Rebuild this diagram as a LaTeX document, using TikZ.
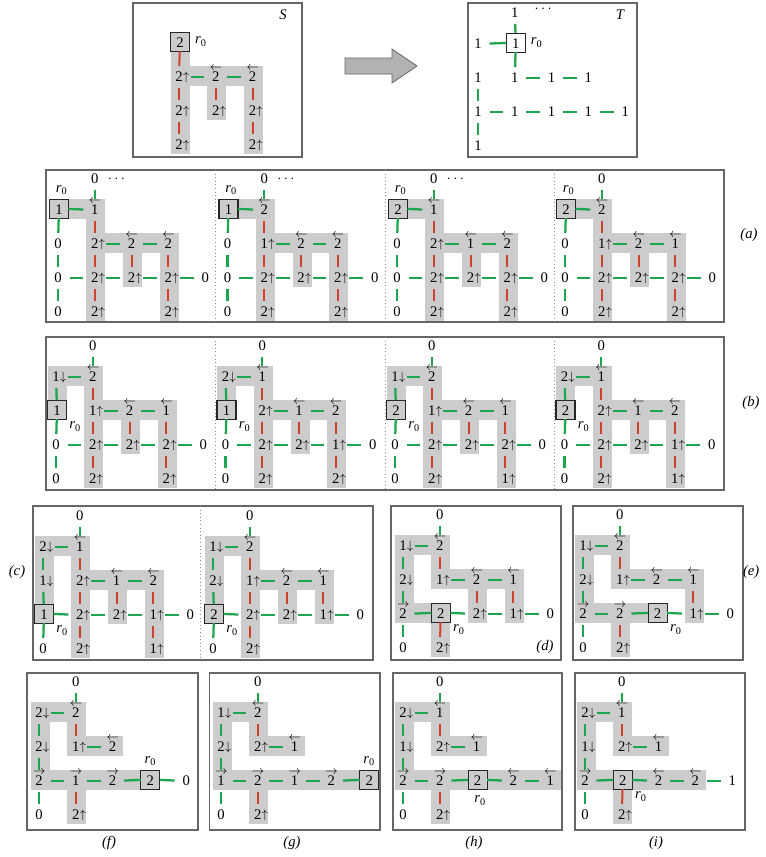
\documentclass[tikz,border=0pt]{standalone}
\usepackage{fontspec}
\setmainfont{Liberation Serif}
\usetikzlibrary{arrows.meta,positioning}

\definecolor{tgreen}{RGB}{30,165,80}
\definecolor{sred}{RGB}{205,65,45}
\definecolor{hl}{RGB}{204,204,204}

% marks beside / over a digit
\newcommand\up[1]{#1\rlap{\kern0.3pt\raisebox{1pt}[0pt][0pt]{\fontsize{9}{9}\selectfont$\uparrow$}}}
\newcommand\dn[1]{#1\rlap{\kern0.3pt\raisebox{1pt}[0pt][0pt]{\fontsize{9}{9}\selectfont$\downarrow$}}}
\newcommand\lt[1]{\rlap{\kern-1.75pt\raisebox{8.7pt}[0pt][0pt]{\fontsize{9}{9}\selectfont$\leftarrow$}}#1}
\newcommand\rt[1]{\rlap{\kern-1.75pt\raisebox{8.7pt}[0pt][0pt]{\fontsize{9}{9}\selectfont$\rightarrow$}}#1}
\newcommand\rzero{\textit{r}\textsubscript{0}}

% grid of one panel (px)
\newcommand\colstep{36.8}
\newcommand\rowstep{34}
\newcommand\hlcells[1]{%
  \foreach \ca/\ra/\cb/\rb in {#1}
    \fill[hl] ({\ca*\colstep-8.5},{(\ra-1)*\rowstep-11.5})
      rectangle ({\cb*\colstep+10.5},{(\rb-1)*\rowstep+8.5});}
\newcommand\verts[1]{%
  \foreach \vc/\vr/\vt in {#1}
    \node[v] (\vc\vr) at ({\vc*\colstep},{(\vr-1)*\rowstep+3*(\vr==0)}) {\vt};}
\newcommand\rootcell[3]{\node[rbox] (#1#2) at ({#1*\colstep},{(#2-1)*\rowstep}) {#3};}
\newcommand\tedges[1]{\foreach \p/\q in {#1} \draw[tedge] (\p) -- (\q);}
\newcommand\sedges[1]{\foreach \p/\q in {#1} \draw[sedge] (\p) -- (\q);}
\newcommand\edgesA{%
  \tedges{10/11, 01/11, 01/02, 02/03, 03/04, 03/13, 13/23, 23/33, 33/43, 12/22, 22/32}%
  \sedges{11/12, 12/13, 13/14, 22/23, 32/33, 33/34}}

\begin{document}
\begin{tikzpicture}[x=0.75pt,y=-0.75pt,
    font=\fontsize{11}{13}\selectfont,
    v/.style={rectangle,inner sep=0pt,outer sep=0.75pt,minimum width=15.75pt,
              minimum height=15pt,text height=7.3pt,text depth=0pt},
    rbox/.style={v,draw=black!85,line width=0.8pt,outer sep=0pt,
                 minimum width=14.25pt,minimum height=14.25pt,text height=9.5pt,
                 xshift=0.75pt,yshift=1.1pt},
    tedge/.style={draw=tgreen,line width=1.7pt},
    sedge/.style={draw=sred,line width=1.5pt},
    frame/.style={draw=black!60,line width=0.9pt},
    sep/.style={draw=black!45,dotted,line width=0.7pt},
    rlab/.style={inner sep=0pt},
    tag/.style={font=\fontsize{11}{13}\selectfont\itshape}
  ]
  \useasboundingbox (0,0) rectangle (765,857);

  % source S
  \begin{scope}[shift={(142.2,43)},name prefix=S-]
    \hlcells{1/1/1/4, 1/2/3/2, 2/2/2/3, 3/2/3/4}
    \rootcell{1}{1}{2}
    \verts{1/2/\up{2}, 2/2/\lt{2}, 3/2/\lt{2}, 1/3/\up{2}, 2/3/\up{2}, 3/3/\up{2},
           1/4/\up{2}, 3/4/\up{2}}
    \tedges{12/22, 22/32}
    \sedges{11/12, 12/13, 13/14, 22/23, 32/33, 33/34}
    \node[rlab,right=4pt of 11] (r) {\rzero};
  \end{scope}
  \node[tag] (Slab) at (283,15) {S};

  \draw[black!60,fill=black!30,line width=0.6pt]
    (345,58) -- (392,58) -- (392,49) -- (417,66) -- (392,83) -- (392,74) -- (345,74) -- cycle;

  % target T
  \begin{scope}[shift={(478,44)},name prefix=T-]
    \rootcell{1}{1}{1}
    \verts{1/0/1, 0/1/1, 0/2/1, 1/2/1, 2/2/1, 3/2/1, 0/3/1, 1/3/1, 2/3/1, 3/3/1,
           4/3/1, 0/4/1}
    \tedges{10/11, 01/11, 11/12, 12/22, 22/32, 02/03, 03/04, 03/13, 13/23, 23/33, 33/43}
    \node[rlab,right=4pt of 11] (r) {\rzero};
    \node[rlab,right=6pt of 10,yshift=2.5pt] (dots) {$\cdots$};
  \end{scope}
  \node[tag] (Tlab) at (620,15) {T};

  % (a)
  \begin{scope}[shift={(58,210)},name prefix=a0-]
    \hlcells{0/1/1/1, 1/1/1/4, 1/2/3/2, 2/2/2/3, 3/2/3/4}
    \rootcell{0}{1}{1}
    \verts{1/0/0, 1/1/\lt{1}, 0/2/0, 1/2/\up{2}, 2/2/\lt{2}, 3/2/\lt{2}, 0/3/0,
           1/3/\up{2}, 2/3/\up{2}, 3/3/\up{2}, 4/3/0, 0/4/0, 1/4/\up{2}, 3/4/\up{2}}
    \edgesA
    \node[rlab,above=3pt of 01,xshift=2pt] (r) {\rzero};
    \node[rlab,right=1pt of 10] (dots) {$\cdots$};
  \end{scope}
  \begin{scope}[shift={(227.5,210)},name prefix=a1-]
    \hlcells{0/1/1/1, 1/1/1/4, 1/2/3/2, 2/2/2/3, 3/2/3/4}
    \rootcell{0}{1}{1}
    \verts{1/0/0, 1/1/\lt{2}, 0/2/0, 1/2/\up{1}, 2/2/\lt{2}, 3/2/\lt{2}, 0/3/0,
           1/3/\up{2}, 2/3/\up{2}, 3/3/\up{2}, 4/3/0, 0/4/0, 1/4/\up{2}, 3/4/\up{2}}
    \edgesA
    \node[rlab,above=3pt of 01,xshift=2pt] (r) {\rzero};
    \node[rlab,right=1pt of 10] (dots) {$\cdots$};
  \end{scope}
  \begin{scope}[shift={(397,210)},name prefix=a2-]
    \hlcells{0/1/1/1, 1/1/1/4, 1/2/3/2, 2/2/2/3, 3/2/3/4}
    \rootcell{0}{1}{2}
    \verts{1/0/0, 1/1/\lt{1}, 0/2/0, 1/2/\up{2}, 2/2/\lt{1}, 3/2/\lt{2}, 0/3/0,
           1/3/\up{2}, 2/3/\up{2}, 3/3/\up{2}, 4/3/0, 0/4/0, 1/4/\up{2}, 3/4/\up{2}}
    \edgesA
    \node[rlab,above=3pt of 01,xshift=2pt] (r) {\rzero};
    \node[rlab,right=1pt of 10] (dots) {$\cdots$};
  \end{scope}
  \begin{scope}[shift={(565,210)},name prefix=a3-]
    \hlcells{0/1/1/1, 1/1/1/4, 1/2/3/2, 2/2/2/3, 3/2/3/4}
    \rootcell{0}{1}{2}
    \verts{1/0/0, 1/1/\lt{2}, 0/2/0, 1/2/\up{1}, 2/2/\lt{2}, 3/2/\lt{1}, 0/3/0,
           1/3/\up{2}, 2/3/\up{2}, 3/3/\up{2}, 4/3/0, 0/4/0, 1/4/\up{2}, 3/4/\up{2}}
    \edgesA
    \node[rlab,above=3pt of 01,xshift=2pt] (r) {\rzero};
  \end{scope}

  % (b)
  \begin{scope}[shift={(56,377)},name prefix=b0-]
    \hlcells{0/1/1/1, 0/1/0/2, 1/1/1/4, 1/2/3/2, 2/2/2/3, 3/2/3/4}
    \rootcell{0}{2}{1}
    \verts{1/0/0, 0/1/\dn{1}, 1/1/\lt{2}, 1/2/\up{1}, 2/2/\lt{2}, 3/2/\lt{1}, 0/3/0,
           1/3/\up{2}, 2/3/\up{2}, 3/3/\up{2}, 4/3/0, 0/4/0, 1/4/\up{2}, 3/4/\up{2}}
    \edgesA
    \node[rlab,below right=2pt and 2pt of 02] (r) {\rzero};
  \end{scope}
  \begin{scope}[shift={(225.5,377)},name prefix=b1-]
    \hlcells{0/1/1/1, 0/1/0/2, 1/1/1/4, 1/2/3/2, 2/2/2/3, 3/2/3/4}
    \rootcell{0}{2}{1}
    \verts{1/0/0, 0/1/\dn{2}, 1/1/\lt{1}, 1/2/\up{2}, 2/2/\lt{1}, 3/2/\lt{2}, 0/3/0,
           1/3/\up{2}, 2/3/\up{2}, 3/3/\up{1}, 4/3/0, 0/4/0, 1/4/\up{2}, 3/4/\up{2}}
    \edgesA
    \node[rlab,below right=2pt and 2pt of 02] (r) {\rzero};
  \end{scope}
  \begin{scope}[shift={(395,377)},name prefix=b2-]
    \hlcells{0/1/1/1, 0/1/0/2, 1/1/1/4, 1/2/3/2, 2/2/2/3, 3/2/3/4}
    \rootcell{0}{2}{2}
    \verts{1/0/0, 0/1/\dn{1}, 1/1/\lt{2}, 1/2/\up{1}, 2/2/\lt{2}, 3/2/\lt{1}, 0/3/0,
           1/3/\up{2}, 2/3/\up{2}, 3/3/\up{2}, 4/3/0, 0/4/0, 1/4/\up{2}, 3/4/\up{1}}
    \edgesA
    \node[rlab,below right=2pt and 2pt of 02] (r) {\rzero};
  \end{scope}
  \begin{scope}[shift={(564.5,377)},name prefix=b3-]
    \hlcells{0/1/1/1, 0/1/0/2, 1/1/1/4, 1/2/3/2, 2/2/2/3, 3/2/3/4}
    \rootcell{0}{2}{2}
    \verts{1/0/0, 0/1/\dn{2}, 1/1/\lt{1}, 1/2/\up{2}, 2/2/\lt{1}, 3/2/\lt{2}, 0/3/0,
           1/3/\up{2}, 2/3/\up{2}, 3/3/\up{1}, 4/3/0, 0/4/0, 1/4/\up{2}, 3/4/\up{1}}
    \edgesA
    \node[rlab,below right=2pt and 2pt of 02] (r) {\rzero};
  \end{scope}

  % (c)
  \begin{scope}[shift={(43,547)},name prefix=c0-]
    \hlcells{0/1/1/1, 0/1/0/3, 1/1/1/4, 1/2/3/2, 2/2/2/3, 3/2/3/4}
    \rootcell{0}{3}{1}
    \verts{1/0/0, 0/1/\dn{2}, 1/1/\lt{1}, 0/2/\dn{1}, 1/2/\up{2}, 2/2/\lt{1}, 3/2/\lt{2},
           1/3/\up{2}, 2/3/\up{2}, 3/3/\up{1}, 4/3/0, 0/4/0, 1/4/\up{2}, 3/4/\up{1}}
    \edgesA
    \node[rlab,below right=2pt and 2pt of 03] (r) {\rzero};
  \end{scope}
  \begin{scope}[shift={(213,547)},name prefix=c1-]
    \hlcells{0/1/1/1, 0/1/0/3, 1/1/1/4, 1/2/3/2, 2/2/2/3, 3/2/3/3}
    \rootcell{0}{3}{2}
    \verts{1/0/0, 0/1/\dn{1}, 1/1/\lt{2}, 0/2/\dn{2}, 1/2/\up{1}, 2/2/\lt{2}, 3/2/\lt{1},
           1/3/\up{2}, 2/3/\up{2}, 3/3/\up{1}, 4/3/0, 0/4/0, 1/4/\up{2}}
    \tedges{10/11, 01/11, 01/02, 02/03, 03/04, 03/13, 13/23, 23/33, 33/43, 12/22, 22/32}
    \sedges{11/12, 12/13, 13/14, 22/23, 32/33}
    \node[rlab,below right=2pt and 2pt of 03] (r) {\rzero};
  \end{scope}

  % (d)
  \begin{scope}[shift={(403,546)},name prefix=d-]
    \hlcells{0/1/1/1, 0/1/0/3, 1/1/1/2, 1/2/3/2, 2/2/2/3, 3/2/3/3, 0/3/1/3, 1/3/1/4}
    \rootcell{1}{3}{2}
    \verts{1/0/0, 0/1/\dn{1}, 1/1/\lt{2}, 0/2/\dn{2}, 1/2/\up{1}, 2/2/\lt{2}, 3/2/\lt{1},
           0/3/\rt{2}, 2/3/\up{2}, 3/3/\up{1}, 4/3/0, 0/4/0, 1/4/\up{2}}
    \tedges{10/11, 01/11, 01/02, 02/03, 03/04, 12/22, 22/32, 03/13, 13/23, 23/33, 33/43}
    \sedges{11/12, 22/23, 32/33, 13/14}
    \node[rlab,below right=2pt and 2pt of 13] (r) {\rzero};
  \end{scope}

  % (e)
  \begin{scope}[shift={(583,546)},name prefix=e-]
    \hlcells{0/1/1/1, 0/1/0/3, 1/1/1/2, 1/2/3/2, 3/2/3/3, 0/3/2/3, 1/3/1/4}
    \rootcell{2}{3}{2}
    \verts{1/0/0, 0/1/\dn{1}, 1/1/\lt{2}, 0/2/\dn{2}, 1/2/\up{1}, 2/2/\lt{2}, 3/2/\lt{1},
           0/3/\rt{2}, 1/3/\rt{2}, 3/3/\up{1}, 4/3/0, 0/4/0, 1/4/\up{2}}
    \tedges{10/11, 01/11, 01/02, 02/03, 03/04, 12/22, 22/32, 03/13, 13/23, 23/33, 33/43}
    \sedges{11/12, 32/33, 13/14}
    \node[rlab,below right=2pt and 2pt of 23] (r) {\rzero};
  \end{scope}

  % (f)
  \begin{scope}[shift={(39,713)},name prefix=f-]
    \hlcells{0/1/1/1, 0/1/0/3, 1/1/1/2, 1/2/2/2, 0/3/3/3, 1/3/1/4}
    \rootcell{3}{3}{2}
    \verts{1/0/0, 0/1/\dn{2}, 1/1/\lt{2}, 0/2/\dn{2}, 1/2/\up{1}, 2/2/\lt{2},
           0/3/\rt{2}, 1/3/\rt{1}, 2/3/\rt{2}, 4/3/0, 0/4/0, 1/4/\up{2}}
    \tedges{10/11, 01/11, 01/02, 02/03, 03/04, 12/22, 03/13, 13/23, 23/33, 33/43}
    \sedges{11/12, 13/14}
    \node[rlab,above=3pt of 33] (r) {\rzero};
  \end{scope}

  % (g)
  \begin{scope}[shift={(221,713)},name prefix=g-]
    \hlcells{0/1/1/1, 0/1/0/3, 1/1/1/2, 1/2/2/2, 0/3/4/3, 1/3/1/4}
    \rootcell{4}{3}{2}
    \verts{1/0/0, 0/1/\dn{1}, 1/1/\lt{2}, 0/2/\dn{2}, 1/2/\up{2}, 2/2/\lt{1},
           0/3/\rt{1}, 1/3/\rt{2}, 2/3/\rt{1}, 3/3/\rt{2}, 0/4/0, 1/4/\up{2}}
    \tedges{10/11, 01/11, 01/02, 02/03, 03/04, 12/22, 03/13, 13/23, 23/33, 33/43}
    \sedges{11/12, 13/14}
    \node[rlab,above=3pt of 43] (r) {\rzero};
  \end{scope}

  % (h)
  \begin{scope}[shift={(403,713)},name prefix=h-]
    \hlcells{0/1/1/1, 0/1/0/3, 1/1/1/2, 1/2/2/2, 0/3/4/3, 1/3/1/4}
    \rootcell{2}{3}{2}
    \verts{1/0/0, 0/1/\dn{2}, 1/1/\lt{1}, 0/2/\dn{1}, 1/2/\up{2}, 2/2/\lt{1},
           0/3/\rt{2}, 1/3/\rt{2}, 3/3/\lt{2}, 4/3/\lt{1}, 0/4/0, 1/4/\up{2}}
    \tedges{10/11, 01/11, 01/02, 02/03, 03/04, 12/22, 03/13, 13/23, 23/33, 33/43}
    \sedges{11/12, 13/14}
    \node[rlab,below=5pt of 23,xshift=2pt] (r) {\rzero};
  \end{scope}

  % (i)
  \begin{scope}[shift={(585,713)},name prefix=i-]
    \hlcells{0/1/1/1, 0/1/0/3, 1/1/1/2, 1/2/2/2, 0/3/3/3, 1/3/1/4}
    \rootcell{1}{3}{2}
    \verts{1/0/0, 0/1/\dn{2}, 1/1/\lt{1}, 0/2/\dn{1}, 1/2/\up{2}, 2/2/\lt{1},
           0/3/\rt{2}, 2/3/\lt{2}, 3/3/\lt{2}, 4/3/1, 0/4/0, 1/4/\up{2}}
    \tedges{10/11, 01/11, 01/02, 02/03, 03/04, 12/22, 03/13, 13/23, 23/33, 33/43}
    \sedges{11/12, 13/14}
    \node[rlab,below right=2pt and 2pt of 13] (r) {\rzero};
  \end{scope}

  % frames
  \draw[frame] (133,3) rectangle (302,157);
  \draw[frame] (468,3) rectangle (637,157);
  \draw[frame] (46,170) rectangle (724,322);
  \draw[frame] (46,337) rectangle (724,490);
  \foreach \x in {215.5,385,554.5} {
    \draw[sep] (\x,170) -- (\x,322);
    \draw[sep] (\x,337) -- (\x,490);
  }
  \draw[frame] (33,506) rectangle (373,660);
  \draw[sep] (200,506) -- (200,660);
  \draw[frame] (391,506) rectangle (561,660);
  \draw[frame] (573,506) rectangle (743,660);
  \draw[frame] (27,673) rectangle (198,830);
  \draw[frame] (209.5,673) rectangle (380,830);
  \draw[frame] (393,673) rectangle (562,830);
  \draw[frame] (575,673) rectangle (745,830);

  \node[tag] (la) at (749,235) {(a)};
  \node[tag] (lb) at (751,403) {(b)};
  \node[tag] (lc) at (17,572) {(c)};
  \node[tag] (ld) at (545,647) {(d)};
  \node[tag,anchor=east] (le) at (764,572) {(e)};
  \node[tag] (lf) at (109,843) {(f)};
  \node[tag] (lg) at (292,843) {(g)};
  \node[tag] (lh) at (474,843) {(h)};
  \node[tag] (li) at (656,843) {(i)};
\end{tikzpicture}
\end{document}
